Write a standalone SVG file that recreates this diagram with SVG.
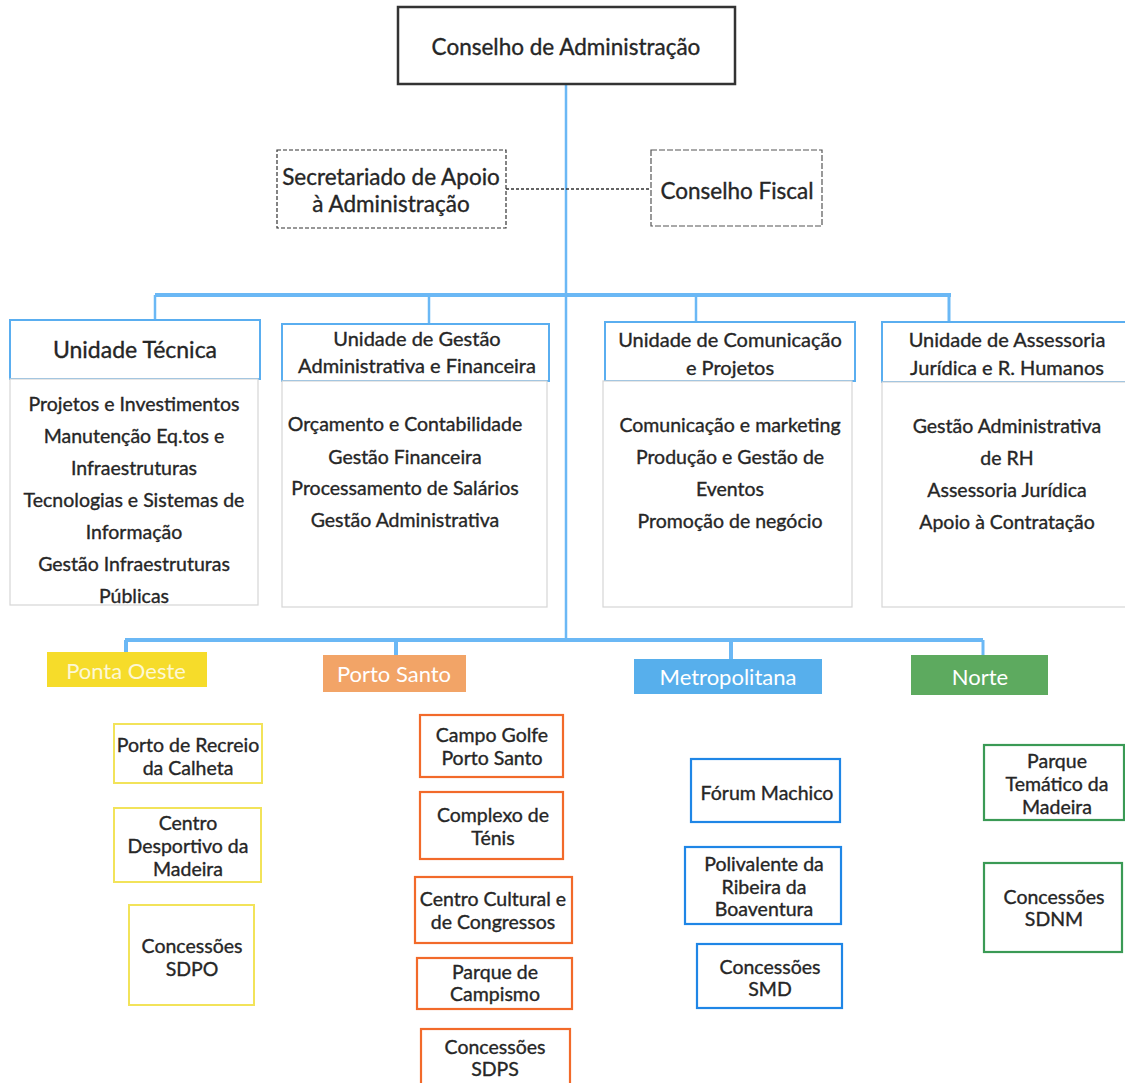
<svg xmlns="http://www.w3.org/2000/svg" width="1125" height="1083" viewBox="0 0 1125 1083">
<style>
text{font-family:Lato,"Liberation Sans",sans-serif;fill:#262626;stroke:#262626;stroke-width:0.35;text-anchor:middle;dominant-baseline:central}
.t{font-size:22.5px}
.h{font-size:20px}
.b{font-size:19.5px}
.c{font-size:19.5px}
.w{fill:#fff;stroke:none;font-size:22px}
.hdr{fill:#fff;stroke:#5aaef0;stroke-width:2}
.body{fill:#fff;stroke:#d6d6d6;stroke-width:1.2}
.bus{stroke:#6bb8f5;fill:none}
.y{fill:#fff;stroke:#f2e35a;stroke-width:2}
.o{fill:#fff;stroke:#f26a2a;stroke-width:2.2}
.m{fill:#fff;stroke:#1f86e6;stroke-width:2.2}
.g{fill:#fff;stroke:#3a9a55;stroke-width:2.2}
</style>
<rect width="1125" height="1083" fill="#fff"/>
<g id="connectors">
<line class="bus" x1="566" y1="84" x2="566" y2="640" stroke-width="2.5"/>
<line x1="506" y1="189" x2="651" y2="189" stroke="#333" stroke-width="1.3" stroke-dasharray="3,2"/>
<line class="bus" x1="155" y1="295" x2="951" y2="295" stroke-width="4"/>
<line class="bus" x1="155" y1="295" x2="155" y2="320" stroke-width="2.5"/>
<line class="bus" x1="429" y1="295" x2="429" y2="324" stroke-width="2.5"/>
<line class="bus" x1="696" y1="295" x2="696" y2="322" stroke-width="2.5"/>
<line class="bus" x1="949" y1="295" x2="949" y2="322" stroke-width="3"/>
<line class="bus" x1="125" y1="640" x2="983" y2="640" stroke-width="4"/>
<line class="bus" x1="126" y1="640" x2="126" y2="652" stroke-width="4"/>
<line class="bus" x1="396" y1="640" x2="396" y2="655" stroke-width="4"/>
<line class="bus" x1="731" y1="640" x2="731" y2="659" stroke-width="4"/>
<line class="bus" x1="983" y1="640" x2="983" y2="655" stroke-width="3"/>
</g>
<g id="conselho-admin">
<rect x="398" y="7" width="337" height="77" fill="#fff" stroke="#333" stroke-width="2.5"/>
<text class="t" x="566" y="46">Conselho de Administração</text>
</g>
<g id="secretariado">
<rect x="277" y="150" width="229" height="78" fill="#fff" stroke="#333" stroke-width="1.2" stroke-dasharray="4,2"/>
<text class="t" x="391" y="176">Secretariado de Apoio</text>
<text class="t" x="391" y="203">à Administração</text>
</g>
<g id="conselho-fiscal">
<rect x="651" y="150" width="171" height="76" fill="#fff" stroke="#555" stroke-width="1.2" stroke-dasharray="6,2"/>
<text class="t" x="737" y="190">Conselho Fiscal</text>
</g>
<g id="unidade-tecnica">
<rect class="hdr" x="10" y="320" width="250" height="59"/>
<text x="135" y="349" font-size="23">Unidade Técnica</text>
<rect class="body" x="10" y="379" width="248" height="226"/>
<text class="b" x="134" y="403">Projetos e Investimentos</text>
<text class="b" x="134" y="435">Manutenção Eq.tos e</text>
<text class="b" x="134" y="467">Infraestruturas</text>
<text class="b" x="134" y="499">Tecnologias e Sistemas de</text>
<text class="b" x="134" y="531">Informação</text>
<text class="b" x="134" y="563">Gestão Infraestruturas</text>
<text class="b" x="134" y="595">Públicas</text>
</g>
<g id="unidade-gestao">
<rect class="hdr" x="282" y="324" width="267" height="57"/>
<text class="h" x="417" y="338">Unidade de Gestão</text>
<text class="h" x="417" y="365">Administrativa e Financeira</text>
<rect class="body" x="282" y="381" width="265" height="226"/>
<text class="b" x="405" y="423">Orçamento e Contabilidade</text>
<text class="b" x="405" y="456">Gestão Financeira</text>
<text class="b" x="405" y="487">Processamento de Salários</text>
<text class="b" x="405" y="519">Gestão Administrativa</text>
</g>
<g id="unidade-comunicacao">
<rect class="hdr" x="605" y="322" width="250" height="59"/>
<text class="h" x="730" y="339">Unidade de Comunicação</text>
<text class="h" x="730" y="367">e Projetos</text>
<rect class="body" x="603" y="381" width="249" height="226"/>
<text class="b" x="730" y="424">Comunicação e marketing</text>
<text class="b" x="730" y="456">Produção e Gestão de</text>
<text class="b" x="730" y="488">Eventos</text>
<text class="b" x="730" y="520">Promoção de negócio</text>
</g>
<g id="unidade-assessoria">
<rect class="hdr" x="882" y="322" width="250" height="60"/>
<text class="h" x="1007" y="339">Unidade de Assessoria</text>
<text class="h" x="1007" y="367">Jurídica e R. Humanos</text>
<rect class="body" x="882" y="382" width="250" height="225"/>
<text class="b" x="1007" y="425">Gestão Administrativa</text>
<text class="b" x="1007" y="457">de RH</text>
<text class="b" x="1007" y="489">Assessoria Jurídica</text>
<text class="b" x="1007" y="521">Apoio à Contratação</text>
</g>
<g id="ponta-oeste">
<rect x="47" y="652" width="160" height="35" fill="#f6dc2a"/>
<text class="w" x="126" y="670" opacity="0.8">Ponta Oeste</text>
</g>
<g id="porto-santo">
<rect x="323" y="655" width="143" height="37" fill="#f2a467"/>
<text class="w" x="394" y="673">Porto Santo</text>
</g>
<g id="metropolitana">
<rect x="634" y="659" width="188" height="35" fill="#57afec"/>
<text class="w" x="728" y="676" font-size="23">Metropolitana</text>
</g>
<g id="norte">
<rect x="911" y="655" width="137" height="40" fill="#5daa5f"/>
<text class="w" x="980" y="676" font-size="23">Norte</text>
</g>
<g id="porto-recreio">
<rect class="y" x="114" y="724" width="148" height="59"/>
<text class="c" x="188" y="744">Porto de Recreio</text>
<text class="c" x="188" y="767">da Calheta</text>
</g>
<g id="centro-desportivo">
<rect class="y" x="114" y="808" width="147" height="74"/>
<text class="c" x="188" y="822">Centro</text>
<text class="c" x="188" y="845">Desportivo da</text>
<text class="c" x="188" y="868">Madeira</text>
</g>
<g id="concessoes-sdpo">
<rect class="y" x="129" y="905" width="125" height="100"/>
<text class="c" x="192" y="945">Concessões</text>
<text class="c" x="192" y="968">SDPO</text>
</g>
<g id="campo-golfe">
<rect class="o" x="420" y="715" width="143" height="62"/>
<text class="c" x="492" y="734">Campo Golfe</text>
<text class="c" x="492" y="757">Porto Santo</text>
</g>
<g id="complexo-tenis">
<rect class="o" x="420" y="792" width="143" height="67"/>
<text class="c" x="493" y="814">Complexo de</text>
<text class="c" x="493" y="837">Ténis</text>
</g>
<g id="centro-cultural">
<rect class="o" x="415" y="877" width="157" height="66"/>
<text class="c" x="493" y="898">Centro Cultural e</text>
<text class="c" x="493" y="921">de Congressos</text>
</g>
<g id="parque-campismo">
<rect class="o" x="417" y="958" width="155" height="51"/>
<text class="c" x="495" y="971">Parque de</text>
<text class="c" x="495" y="993">Campismo</text>
</g>
<g id="concessoes-sdps">
<rect class="o" x="421" y="1029" width="149" height="60"/>
<text class="c" x="495" y="1046">Concessões</text>
<text class="c" x="495" y="1068">SDPS</text>
</g>
<g id="forum-machico">
<rect class="m" x="691" y="759" width="149" height="63"/>
<text class="c" x="767" y="792">Fórum Machico</text>
</g>
<g id="polivalente">
<rect class="m" x="685" y="847" width="156" height="77"/>
<text class="c" x="764" y="863">Polivalente da</text>
<text class="c" x="764" y="886">Ribeira da</text>
<text class="c" x="764" y="908">Boaventura</text>
</g>
<g id="concessoes-smd">
<rect class="m" x="697" y="944" width="145" height="64"/>
<text class="c" x="770" y="966">Concessões</text>
<text class="c" x="770" y="988">SMD</text>
</g>
<g id="parque-tematico">
<rect class="g" x="984" y="745" width="140" height="75"/>
<text class="c" x="1057" y="760">Parque</text>
<text class="c" x="1057" y="783">Temático da</text>
<text class="c" x="1057" y="806">Madeira</text>
</g>
<g id="concessoes-sdnm">
<rect class="g" x="984" y="863" width="138" height="89"/>
<text class="c" x="1054" y="896">Concessões</text>
<text class="c" x="1054" y="918">SDNM</text>
</g>
</svg>
